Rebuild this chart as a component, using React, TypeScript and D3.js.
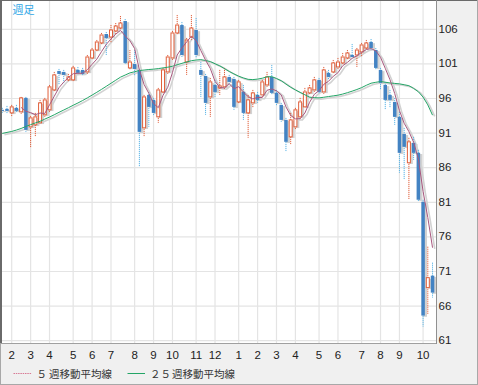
import React from "react";
import * as d3 from "d3";

// Weekly candles (price values)
const opens = [94.36,94.5,93.92,94.65,94.07,96.09,91.9,92.19,92.48,93.64,94.36,97.24,99.98,99.84,98.69,98.69,100.13,100.13,99.84,101.86,103.01,104.03,105.32,104.89,105.76,106.19,107.2,100.42,100.99,100.13,91.76,96.52,95.8,93.35,96.95,99.84,101.86,105.47,106.62,101.28,104.89,105.9,100.13,99.26,96.23,97.96,97.53,97.68,99.12,98.83,95.51,96.95,93.92,95.37,96.52,96.52,97.96,99.12,96.81,95.08,92.91,90.46,91.9,93.35,94.79,96.81,97.24,98.69,96.95,99.7,99.84,100.56,101.14,101.86,102.29,102.29,102.73,103.3,104.17,103.01,100.13,97.96,96.52,95.51,93.35,90.89,86.71,89.6,88.15,81.08,68.67,70.4];
const closes = [94.21,94.21,94.79,94.21,96.09,91.47,93.2,93.35,95.37,95.8,97.68,99.41,99.55,99.41,99.12,100.42,99.7,99.55,102.0,103.01,104.17,105.18,104.75,105.9,106.48,106.91,101.14,101.28,100.27,91.18,96.23,94.79,93.92,97.24,100.13,102.0,105.47,106.62,102.29,104.46,106.19,102.29,99.41,95.37,98.4,96.95,97.82,99.12,98.4,94.79,98.4,93.92,95.8,96.81,95.8,98.4,99.12,96.81,95.37,92.91,89.74,92.91,94.36,95.51,96.95,97.53,98.69,96.95,100.13,99.12,101.14,101.28,102.0,102.58,102.0,103.01,103.74,104.03,103.3,100.42,98.25,95.8,95.8,93.35,88.15,89.02,89.74,88.15,81.37,64.63,70.11,67.95];
const highs = [94.65,94.93,95.08,95.08,96.23,96.23,93.49,93.92,95.8,96.09,97.96,99.84,100.27,100.13,99.55,100.71,100.56,100.42,102.29,103.3,104.46,105.47,105.61,106.62,106.91,107.92,107.49,103.01,103.01,100.27,96.52,96.95,96.09,97.53,100.42,102.29,105.76,108.07,107.06,104.75,108.07,107.63,101.28,99.55,98.97,98.69,100.13,100.42,99.41,99.12,98.69,97.96,96.52,97.24,96.95,98.69,99.84,100.85,97.24,95.37,93.2,93.92,94.65,96.09,97.53,97.96,99.12,98.97,100.56,100.13,101.57,101.86,102.58,103.01,103.88,103.3,104.03,104.46,104.6,103.3,100.42,98.4,97.24,96.09,94.07,91.76,90.32,90.46,88.58,81.37,74.59,72.28];
const lows = [93.92,93.78,93.35,93.92,93.78,91.18,88.87,90.46,92.34,93.35,94.07,96.95,97.96,98.11,98.4,98.4,99.41,99.26,99.55,101.57,102.73,103.74,102.29,104.03,105.32,105.9,100.99,100.13,99.26,86.13,90.46,91.9,93.49,92.48,96.67,99.55,101.57,105.18,102.0,99.41,104.46,101.86,96.23,93.64,93.35,96.23,96.52,97.39,97.96,94.36,95.22,92.91,90.32,94.65,95.37,96.23,97.68,96.52,94.93,92.63,88.3,89.31,91.47,92.91,94.65,96.52,96.95,96.67,96.67,98.69,99.55,100.27,100.85,101.57,101.86,100.56,102.0,103.01,103.01,100.13,97.24,94.36,94.65,92.19,85.27,84.26,81.37,87.14,81.08,63.04,64.78,67.23];
// 25-week moving average (history before the window is not shown)
const ma25 = [90.95,91.1,91.24,91.44,91.67,91.96,92.22,92.47,92.7,93.02,93.32,93.65,94.0,94.33,94.67,95.02,95.35,95.71,96.09,96.49,96.9,97.32,97.76,98.2,98.64,99.08,99.39,99.7,99.87,100.04,100.11,100.19,100.24,100.32,100.42,100.52,100.66,100.88,101.08,101.28,101.46,101.56,101.62,101.49,101.34,101.02,100.72,100.32,99.91,99.55,99.22,98.97,98.77,98.73,98.8,98.93,99.13,99.16,98.89,98.57,98.09,97.63,97.24,96.88,96.54,96.19,96.12,96.09,96.18,96.28,96.38,96.48,96.64,96.84,97.06,97.3,97.57,97.91,98.21,98.34,98.45,98.35,98.25,98.18,98.12,97.99,97.85,97.46,96.98,96.2,95.08,93.59];
const monthLabels = ["2","3","4","5","6","7","8","9","10","11","12","1","2","3","4","5","6","7","8","9","10"];
const monthIndex = [2,6,10,15,19,23,28,32,36,41,45,50,54,58,62,67,71,76,80,84,89];
const yTicks = [61,66,71,76,81,86,91,96,101,106];

const UP = "#e0603c";
const DOWN = "#4383c3";
const DOWN_WICK = "#5ab4e6";
const SHADOW = "#d2d2d2";
const MA5C = "#a8587e";
const MA25C = "#23a566";

export default function App() {
  const W = 478, H = 385;
  const PR = 436, PB = 343;
  const n = opens.length;
  const x = d3.scaleBand<number>().domain(d3.range(n)).range([-0.12, 434.9]);
  const cx = (i: number) => (x(i) as number) + x.bandwidth() / 2;
  const y = d3.scaleLinear().domain([61, 106]).range([340.7, 29.3]);

  const ma5: (number | null)[] = closes.map((_, i) =>
    i < 4 ? null : (d3.mean(closes.slice(i - 4, i + 1)) as number)
  );
  const line = d3
    .line<number | null>()
    .defined((d) => d != null)
    .x((_, i) => cx(i))
    .y((d) => y(d as number));

  const candles = (shadow: boolean) =>
    opens.map((o, i) => {
      const c = closes[i];
      const up = c >= o;
      const top = y(Math.max(o, c));
      const bot = y(Math.min(o, c));
      const h = Math.max(1, bot - top);
      const xc = cx(i);
      if (shadow) {
        return (
          <g key={i}>
            <rect x={xc - 1.75} y={top} width={3.5} height={h} fill={SHADOW} />
          </g>
        );
      }
      return (
        <g key={i}>
          <line
            x1={xc}
            x2={xc}
            y1={y(highs[i])}
            y2={y(lows[i])}
            stroke={up ? UP : DOWN_WICK}
            strokeWidth={1}
            strokeDasharray="1.2,0.8"
          />
          {up ? (
            <rect x={xc - 1.5} y={top} width={3} height={h} fill="#fff" stroke={UP} strokeWidth={1} />
          ) : (
            <rect x={xc - 1.75} y={top} width={3.5} height={h} fill={DOWN} />
          )}
        </g>
      );
    });

  const font = "'Liberation Sans', Arial, sans-serif";
  const cjk = "'Noto Sans CJK JP', 'Noto Sans', sans-serif";

  return (
    <svg width={W} height={H} style={{ display: "block", position: "absolute", left: 0, top: 0 }}>
      <defs>
        <clipPath id="plotclip">
          <rect x={2} y={1} width={PR - 2} height={PB - 1} />
        </clipPath>
      </defs>
      <rect x={0} y={0} width={W} height={H} fill="#f0f0f0" />
      <rect x={2} y={1} width={PR - 2} height={PB - 1} fill="#fff" />
      <g clipPath="url(#plotclip)">
        {yTicks.map((t) => (
          <line key={"h" + t} x1={0} x2={PR} y1={y(t)} y2={y(t)} stroke="#e4e4e4" strokeWidth={1.2} />
        ))}
        {monthIndex.map((m, k) => (
          <line key={"v" + k} x1={cx(m)} x2={cx(m)} y1={0} y2={PB} stroke="#e4e4e4" strokeWidth={1.2} />
        ))}
        <g transform="translate(2.2,1.2)">
          {candles(true)}
          <path d={line(ma5) || ""} fill="none" stroke={SHADOW} strokeWidth={1.6} />
          <path d={line(ma25) || ""} fill="none" stroke={SHADOW} strokeWidth={1.6} />
        </g>
        {candles(false)}
        <path d={line(ma25) || ""} fill="none" stroke={MA25C} strokeWidth={1} />
        <path d={line(ma5) || ""} fill="none" stroke={MA5C} strokeWidth={1} />
      </g>
      {/* frame */}
      <line x1={0} x2={W} y1={0.5} y2={0.5} stroke="#6a6a6a" strokeWidth={1} />
      <line x1={1} x2={1} y1={0} y2={PB} stroke="#6a6a6a" strokeWidth={2} />
      <line x1={0} x2={PR + 1} y1={PB + 0.5} y2={PB + 0.5} stroke="#a0a0a0" strokeWidth={1} />
      <line x1={PR + 0.5} x2={PR + 0.5} y1={0} y2={PB + 1} stroke="#909090" strokeWidth={1} />
      <line x1={W - 0.5} x2={W - 0.5} y1={0} y2={H} stroke="#a8a8a8" strokeWidth={1} />
      <line x1={0} x2={W} y1={H - 0.5} y2={H - 0.5} stroke="#a8a8a8" strokeWidth={1} />
      <line x1={0.5} x2={0.5} y1={PB} y2={H} stroke="#a8a8a8" strokeWidth={1} />
      {/* y axis labels */}
      {yTicks.map((t) => (
        <text key={"yl" + t} x={438.5} y={y(t) + 3.5} fontFamily={font} fontSize={11.5} fill="#222">
          {t}
        </text>
      ))}
      {/* x axis labels */}
      {monthIndex.map((m, k) => (
        <text key={"xl" + k} x={cx(m)} y={358.5} textAnchor="middle" fontFamily={font} fontSize={11.5} fill="#222">
          {monthLabels[k]}
        </text>
      ))}
      {/* title */}
      <text x={12.5} y={13.5} fontFamily={cjk} fontSize={11} fill="#2ea6e6">
        週足
      </text>
      {/* legend */}
      <line x1={13.5} x2={31.5} y1={373.5} y2={373.5} stroke="#d87a95" strokeWidth={1} strokeDasharray="1.5,0.8" />
      <text x={36.5} y={377.5} fontFamily={cjk} fontSize={10.5} fill="#333">５</text>
      <text x={49} y={377.5} fontFamily={cjk} fontSize={10.5} fill="#333">週移動平均線</text>
      <line x1={127.5} x2={145} y1={373.5} y2={373.5} stroke={MA25C} strokeWidth={1} />
      <text x={150} y={377.5} fontFamily={cjk} fontSize={10.5} fill="#333">２５</text>
      <text x={172} y={377.5} fontFamily={cjk} fontSize={10.5} fill="#333">週移動平均線</text>
    </svg>
  );
}
